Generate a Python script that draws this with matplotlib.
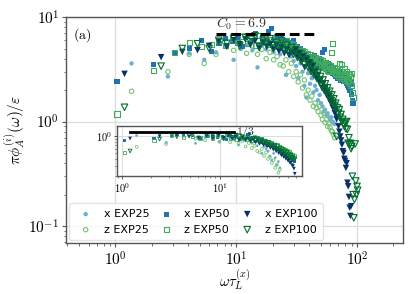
import matplotlib
matplotlib.use("Agg")
import matplotlib.pyplot as plt
from matplotlib.ticker import FuncFormatter, NullFormatter, LogLocator
import math

plt.rcParams['mathtext.fontset'] = 'cm'
plt.rcParams['font.family'] = ['DejaVu Sans']

# ---------------- main panel data ----------------
x_exp25 = [1.36, 2.72, 4.08, 5.44, 6.8, 8.16, 9.52, 10.9, 12.2, 13.6, 15.0, 16.3, 17.7, 19.0, 20.4,
           21.8, 23.1, 24.5, 25.8, 27.2, 28.6, 29.9, 31.3, 32.6, 34.0, 35.4, 36.7, 38.1, 39.4, 40.8,
           42.2, 43.5, 44.9, 46.2, 47.6, 49.0, 50.3, 51.7, 53.0, 54.4, 55.8, 57.1, 58.5, 59.8, 61.2,
           62.6, 63.9, 65.3]
y_x_exp25 = [3.6, 2.7, 4.5, 3.9, 4.6, 5.2, 3.9, 5.0, 5.4, 4.8, 3.3, 5.3, 4.9, 5.5, 4.6,
             5.2, 4.4, 5.0, 2.8, 4.6, 4.2, 3.8, 3.4, 2.6, 3.6, 3.0, 2.2, 1.7, 2.9, 2.3,
             2.6, 1.9, 2.2, 2.0, 1.6, 1.8, 1.5, 1.4, 1.25, 1.3, 1.15, 1.2, 1.1, 1.05, 1.1,
             1.0, 0.97, 0.95]
y_z_exp25 = [1.95, 3.0, 4.4, 3.6, 4.4, 6.2, 4.8, 5.0, 4.5, 5.3, 4.4, 4.9, 4.0, 4.6, 3.9,
             4.2, 3.5, 3.4, 3.9, 3.0, 3.6, 2.7, 3.0, 2.4, 2.8, 2.1, 2.5, 1.8, 2.0, 1.6,
             1.75, 1.4, 1.5, 1.35, 1.25, 1.4, 1.15, 1.05, 1.2, 0.98, 1.05, 0.9, 0.95, 0.88, 0.82,
             0.8, 0.75, 0.70]

x_exp50 = [1.03, 2.07, 3.1, 4.13, 5.17, 6.2, 7.2, 8.2, 9.3, 10.3, 11.3, 12.4, 13.4, 14.4, 15.5,
           16.5, 17.5, 18.5, 19.6, 20.6, 21.6, 22.7, 23.7, 24.7, 25.8, 26.8, 27.8, 28.8, 29.9, 30.9,
           31.9, 33.0, 34.0, 35.0, 36.0, 37.0, 38.0, 39.0, 40.0, 41.2, 42.2, 43.3, 44.3, 45.3, 46.4,
           47.4, 48.4, 49.4, 50.5, 51.5, 52.5, 53.6, 54.6, 55.6, 56.7, 57.7, 58.7, 59.7, 60.8, 61.8,
           62.8, 63.9, 64.9, 65.9, 67.0, 68.0, 69.0, 70.0, 71.1, 72.1, 73.1, 74.2, 75.2, 76.2, 77.3,
           78.3, 79.3, 80.3, 81.4, 82.4, 83.4, 84.5, 85.5, 86.5, 87.6, 88.6, 89.6, 90.6, 91.7, 92.7]
y_x_exp50 = [2.4, 3.5, 4.6, 5.0, 6.0, 4.7, 5.6, 6.2, 5.8, 6.4, 5.2, 6.6, 6.0, 6.9, 5.5,
             6.3, 5.9, 7.2, 7.8, 6.1, 6.5, 5.4, 6.2, 5.8, 6.0, 5.1, 5.7, 5.3, 5.9, 4.8,
             5.2, 4.6, 5.0, 4.3, 4.7, 4.0, 4.4, 3.9, 4.2, 3.7, 4.1, 3.5, 4.3, 3.6, 3.9,
             3.4, 4.0, 3.3, 3.8, 4.6, 3.5, 4.9, 3.4, 3.7, 3.2, 3.6, 3.1, 3.4, 3.0, 3.3,
             2.9, 3.2, 2.8, 3.1, 2.7, 3.0, 2.6, 2.9, 2.7, 3.0, 2.5, 2.8, 2.6, 2.9, 2.4,
             2.7, 2.5, 2.6, 2.3, 2.5, 2.2, 2.4, 2.1, 2.5, 2.0, 2.3, 1.8, 2.4, 1.6, 1.5]
y_z_exp50 = [1.18, 3.08, 4.6, 5.66, 5.26, 5.5, 6.0, 5.3, 6.3, 5.7, 6.5, 5.6, 6.2, 5.4, 6.7,
             5.8, 6.3, 5.5, 6.1, 5.2, 6.4, 5.6, 6.0, 5.3, 5.9, 5.0, 5.6, 4.8, 5.4, 5.1,
             4.6, 5.0, 4.4, 4.8, 4.3, 4.7, 4.1, 4.5, 3.9, 4.4, 3.8, 4.2, 3.7, 4.1, 3.6,
             4.0, 3.5, 3.9, 3.4, 3.8, 3.3, 3.7, 3.2, 3.6, 3.1, 3.5, 3.0, 3.4, 3.2, 4.6,
             5.6, 3.1, 3.3, 2.9, 3.2, 2.8, 3.1, 2.7, 3.0, 3.6, 2.8, 3.5, 2.6, 3.0, 2.7,
             3.2, 2.5, 2.9, 2.6, 3.0, 2.4, 2.8, 2.5, 2.9, 2.3, 2.7, 2.9, 2.2, 1.9, 1.69]

x_exp100 = [1.19, 2.39, 3.58, 4.78, 5.97, 7.16, 8.36, 9.55, 10.7, 11.9, 13.1, 14.3, 15.5, 16.7, 17.9,
            19.1, 20.3, 21.5, 22.6, 23.8, 25.0, 26.2, 27.4, 28.6, 29.8, 31.0, 32.1, 33.3, 34.5, 35.7,
            36.9, 38.1, 39.3, 40.5, 41.7, 42.8, 44.0, 45.2, 46.4, 47.6, 48.8, 50.0, 51.2, 52.4, 53.6,
            54.7, 55.9, 57.1, 58.3, 59.5, 60.7, 61.9, 63.1, 64.3, 65.5, 66.6, 67.8, 69.0, 70.2, 71.4,
            72.6, 73.8, 75.0, 76.2, 77.4, 78.5, 79.7, 80.9, 82.1, 83.3, 84.5, 85.7, 86.9, 88.1, 89.3,
            90.5, 91.6, 92.8, 94.0, 95.2, 96.4, 97.6, 98.8, 100.0, 101.2]
y_x_exp100 = [2.86, 4.13, 4.64, 4.82, 5.3, 5.8, 5.2, 6.0, 5.5, 6.1, 5.4, 5.9, 5.0, 5.7, 5.2,
              5.5, 4.9, 5.4, 4.7, 5.1, 4.5, 4.9, 4.3, 4.6, 4.6, 4.9, 4.2, 4.5, 3.9, 4.2,
              3.3, 4.0, 3.5, 3.7, 3.1, 3.4, 2.9, 3.0, 2.6, 2.8, 2.4, 2.5, 2.1, 2.3, 1.95,
              2.1, 1.8, 1.9, 1.65, 1.75, 1.5, 1.6, 1.35, 1.45, 1.2, 1.3, 1.05, 1.1, 0.9, 0.8,
              0.72, 0.66, 0.6, 0.52, 0.5, 0.44, 0.42, 0.36, 0.4, 0.26, 0.24, 0.19, 0.15, 0.125, 0.155]
y_z_exp100 = [1.37, 3.39, 5.0, 5.55, 5.0, 6.0, 5.6, 6.3, 5.3, 6.4, 5.8, 6.6, 5.2, 6.0, 5.5,
              6.2, 5.0, 5.7, 5.3, 5.9, 4.8, 5.4, 4.6, 5.1, 4.4, 4.8, 4.1, 4.5, 3.8, 4.2,
              3.5, 3.9, 3.3, 3.6, 3.0, 3.4, 2.8, 3.1, 2.6, 2.9, 2.4, 2.7, 2.2, 2.5, 2.0,
              2.3, 1.9, 2.1, 1.75, 1.95, 1.6, 1.8, 1.5, 1.65, 1.4, 1.5, 0.72, 1.35, 1.2, 1.3,
              1.1, 1.17, 1.0, 1.05, 0.95, 0.9, 0.98, 0.85, 1.0, 0.84, 0.62, 0.7, 0.6, 0.62, 0.55,
              0.58, 0.3, 0.2, 0.12, 0.18, 0.61, 0.27, 0.2, 0.24, 0.22]

# ---------------- inset data ----------------
xi_exp25 = [1.41, 2.82, 4.23, 5.64, 7.05, 8.46, 9.87, 11.3, 12.7, 14.1, 15.5, 16.9, 18.3, 19.7, 21.2,
            22.6, 24.0, 25.4, 26.8, 28.2, 29.6, 31.0, 32.4, 33.8, 35.3, 36.7, 38.1, 39.5, 40.9]
yi_x_exp25 = [1.03, 0.78, 0.99, 0.75, 0.95, 1.0, 0.8, 0.97, 0.92, 0.85, 0.7, 0.9, 0.83, 0.88, 0.75,
              0.8, 0.68, 0.74, 0.5, 0.66, 0.6, 0.55, 0.45, 0.38, 0.5, 0.42, 0.31, 0.36, 0.28]
yi_z_exp25 = [0.65, 0.73, 1.1, 0.9, 0.85, 1.05, 0.8, 0.9, 0.78, 0.92, 0.75, 0.82, 0.66, 0.76, 0.62,
              0.68, 0.55, 0.52, 0.6, 0.45, 0.52, 0.4, 0.43, 0.34, 0.38, 0.28, 0.32, 0.23, 0.26]

xi_exp50 = [1.06, 2.12, 3.18, 4.24, 5.3, 6.36, 7.42, 8.48, 9.54, 10.6, 11.7, 12.7, 13.8, 14.8, 15.9,
            17.0, 18.0, 19.1, 20.1, 21.2, 22.3, 23.3, 24.4, 25.4, 26.5, 27.6, 28.6, 29.7, 30.7, 31.8,
            32.9, 33.9, 35.0, 36.0, 37.1, 38.2, 39.2, 40.3, 41.3, 42.4, 43.5, 44.5, 45.6, 46.6, 47.7,
            48.8, 49.8, 50.9, 51.9, 53.0, 54.1, 55.1, 56.2, 57.2]
yi_x_exp50 = [0.85, 0.92, 1.03, 1.08, 1.05, 0.9, 0.98, 1.02, 0.95, 1.0, 0.88, 1.02, 0.93, 1.05, 0.86,
              0.97, 0.9, 1.08, 1.12, 0.9, 0.95, 0.82, 0.9, 0.85, 0.86, 0.75, 0.82, 0.76, 0.8, 0.7,
              0.72, 0.65, 0.7, 0.62, 0.65, 0.58, 0.62, 0.55, 0.58, 0.52, 0.55, 0.5, 0.53, 0.47, 0.5,
              0.44, 0.47, 0.42, 0.45, 0.4, 0.42, 0.38, 0.4, 0.36]
yi_z_exp50 = [0.52, 0.84, 1.03, 0.96, 1.0, 0.93, 1.02, 0.9, 1.05, 0.95, 1.06, 0.9, 1.0, 0.88, 1.08,
              0.92, 1.0, 0.87, 0.96, 0.83, 1.0, 0.87, 0.93, 0.82, 0.9, 0.77, 0.85, 0.73, 0.82, 0.77,
              0.7, 0.75, 0.66, 0.72, 0.64, 0.7, 0.6, 0.66, 0.57, 0.64, 0.55, 0.6, 0.53, 0.58, 0.5,
              0.55, 0.48, 0.53, 0.46, 0.5, 0.44, 0.48, 0.42, 0.45]

xi_exp100 = [1.21, 2.42, 3.63, 4.84, 6.05, 7.26, 8.47, 9.68, 10.9, 12.1, 13.3, 14.5, 15.7, 16.9, 18.2,
             19.4, 20.6, 21.8, 23.0, 24.2, 25.4, 26.6, 27.8, 29.0, 30.3, 31.5, 32.7, 33.9, 35.1, 36.3,
             37.5, 38.7, 39.9, 41.1, 42.4, 43.6, 44.8, 46.0, 47.2, 48.4, 49.6, 50.8, 52.0, 53.2, 54.5,
             55.7, 56.9, 58.1]
yi_x_exp100 = [0.91, 1.0, 1.03, 0.98, 0.95, 1.0, 0.9, 1.02, 0.94, 1.0, 0.9, 0.96, 0.85, 0.93, 0.86,
               0.9, 0.82, 0.87, 0.78, 0.83, 0.74, 0.78, 0.7, 0.74, 0.66, 0.7, 0.62, 0.66, 0.58, 0.62,
               0.54, 0.58, 0.5, 0.53, 0.46, 0.49, 0.43, 0.45, 0.4, 0.42, 0.37, 0.39, 0.34, 0.35, 0.31,
               0.3, 0.27, 0.22]
yi_z_exp100 = [0.55, 0.89, 0.98, 1.02, 0.92, 1.05, 0.95, 1.06, 0.9, 1.04, 0.95, 1.05, 0.88, 0.98, 0.9,
               0.97, 0.84, 0.92, 0.85, 0.9, 0.8, 0.86, 0.76, 0.82, 0.72, 0.78, 0.68, 0.74, 0.64, 0.7,
               0.6, 0.66, 0.57, 0.62, 0.54, 0.58, 0.5, 0.55, 0.47, 0.52, 0.45, 0.49, 0.42, 0.46, 0.4,
               0.43, 0.37, 0.4]

labels = ['x EXP25', 'z EXP25', 'x EXP50', 'z EXP50', 'x EXP100', 'z EXP100']
colors = ['#6baed6', '#74c476', '#2171b5', '#41ab5d', '#08306b', '#006d2c']
markers = ['o', 'o', 's', 's', 'v', 'v']
filled = [True, False, True, False, True, False]
sizes = [10, 10, 14, 14, 22, 22]
sizes_inset = [4, 4, 5, 5, 7, 7]

c0_value = 6.9
c0_range = [6.8, 44.0]
slope_level = 1.2
slope_range = [1.2, 14.0]

main_series = [(x_exp25, y_x_exp25), (x_exp25, y_z_exp25), (x_exp50, y_x_exp50),
               (x_exp50, y_z_exp50), (x_exp100, y_x_exp100), (x_exp100, y_z_exp100)]
inset_series = [(xi_exp25, yi_x_exp25), (xi_exp25, yi_z_exp25), (xi_exp50, yi_x_exp50),
                (xi_exp50, yi_z_exp50), (xi_exp100, yi_x_exp100), (xi_exp100, yi_z_exp100)]

fig = plt.figure(figsize=(4.15, 2.94), dpi=100)
ax = fig.add_axes([0.159, 0.173, 0.812, 0.769])

handles = []
for (xs, ys), lab, c, m, f, s in zip(main_series, labels, colors, markers, filled, sizes):
    n = min(len(xs), len(ys))
    if f:
        h = ax.scatter(xs[:n], ys[:n], s=s, marker=m, c=c, edgecolors='none', label=lab, zorder=3)
    else:
        h = ax.scatter(xs[:n], ys[:n], s=s, marker=m, facecolors='none', edgecolors=c,
                       linewidths=0.8, label=lab, zorder=3)
    handles.append(h)

ax.plot(c0_range, [c0_value, c0_value], color='black', lw=2.2, ls=(0, (3.2, 1.6)), zorder=4)
ax.text(c0_range[0], 7.25, r'$C_0 = 6.9$', fontsize=10, color='#333333', ha='left', va='bottom')
ax.text(0.02, 0.96, r'$\mathrm{(a)}$', transform=ax.transAxes, fontsize=10, ha='left', va='top')

ax.set_xscale('log')
ax.set_yscale('log')
ax.set_xlim(0.39, 240)
ax.set_ylim(0.0687, 10)

def dec_fmt(v, pos):
    if v <= 0:
        return ''
    e = math.log10(v)
    if abs(e - round(e)) > 1e-6:
        return ''
    return r'$10^{%d}$' % int(round(e))

ax.xaxis.set_major_locator(LogLocator(base=10, numticks=10))
ax.yaxis.set_major_locator(LogLocator(base=10, numticks=10))
ax.xaxis.set_major_formatter(FuncFormatter(dec_fmt))
ax.yaxis.set_major_formatter(FuncFormatter(dec_fmt))
ax.xaxis.set_minor_formatter(NullFormatter())
ax.yaxis.set_minor_formatter(NullFormatter())
ax.tick_params(which='major', labelsize=11, length=3, color='#555555', width=0.8, pad=2)
ax.tick_params(which='minor', length=1.8, color='#555555', width=0.6)
ax.grid(True, which='major', color='#dddddd', lw=0.9, zorder=0)
ax.set_axisbelow(True)
for sp in ax.spines.values():
    sp.set_color('#555555')
    sp.set_linewidth(1.0)

ax.set_xlabel(r'$\omega\tau_L^{(x)}$', fontsize=10.5, labelpad=-0.5)
ax.set_ylabel(r'$\pi\phi_A^{(i)}(\omega)/\varepsilon$', fontsize=11, labelpad=1)

leg = ax.legend(handles=handles, loc='lower left', ncol=3, fontsize=8, frameon=True,
                framealpha=0.8, edgecolor='#dddddd', borderpad=0.5, handletextpad=0.62,
                columnspacing=0.55, handlelength=2.0, markerscale=1.0,
                borderaxespad=0.27, labelspacing=0.5)

# ---------------- inset ----------------
axi = fig.add_axes([0.282, 0.401, 0.446, 0.170])
for (xs, ys), c, m, f, s in zip(inset_series, colors, markers, filled, sizes_inset):
    n = min(len(xs), len(ys))
    if f:
        axi.scatter(xs[:n], ys[:n], s=s, marker=m, c=c, edgecolors='none', zorder=3)
    else:
        axi.scatter(xs[:n], ys[:n], s=s, marker=m, facecolors='none', edgecolors=c,
                    linewidths=0.6, zorder=3)
axi.plot(slope_range, [slope_level, slope_level], color='black', lw=2.0, zorder=4)
axi.text(slope_range[1] * 1.05, slope_level, r'$1/3$', fontsize=8.5, color='#333333',
         ha='left', va='center')
axi.set_xscale('log')
axi.set_yscale('log')
axi.set_xlim(0.89, 69)
axi.set_ylim(0.2, 1.5)
axi.xaxis.set_major_locator(LogLocator(base=10, numticks=10))
axi.yaxis.set_major_locator(LogLocator(base=10, numticks=10))
axi.xaxis.set_major_formatter(FuncFormatter(dec_fmt))
axi.yaxis.set_major_formatter(FuncFormatter(dec_fmt))
axi.xaxis.set_minor_formatter(NullFormatter())
axi.yaxis.set_minor_formatter(NullFormatter())
axi.tick_params(which='major', labelsize=7.5, length=2.5, color='#555555', width=0.7, pad=1)
axi.tick_params(which='minor', length=1.5, color='#555555', width=0.5)
axi.grid(True, which='major', color='#dddddd', lw=0.8, zorder=0)
axi.set_axisbelow(True)
for sp in axi.spines.values():
    sp.set_color('#555555')
    sp.set_linewidth(1.0)

fig.savefig('out.png', dpi=100)
